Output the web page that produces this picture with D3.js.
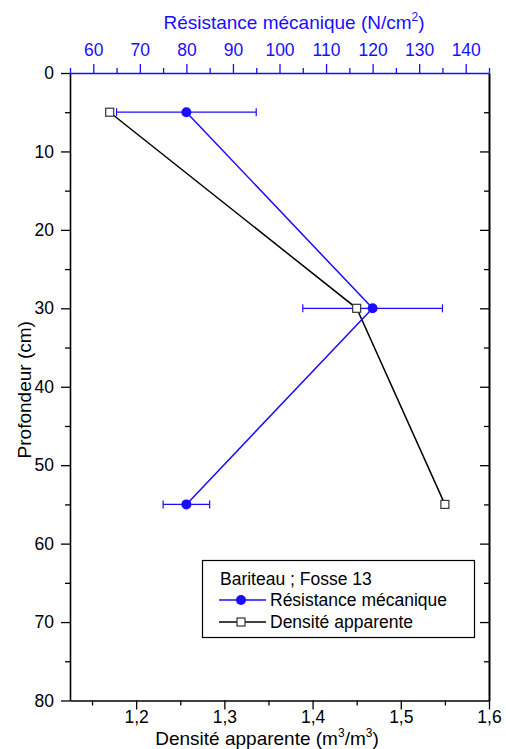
<!DOCTYPE html>
<html>
<head>
<meta charset="utf-8">
<script src="https://cdn.jsdelivr.net/npm/d3@7/dist/d3.min.js"></script>
<style>
  html, body { margin: 0; padding: 0; background: #fff; }
  svg { display: block; font-family: "Liberation Sans", Arial, sans-serif; }
</style>
</head>
<body>
<svg id="chart" width="506" height="749"></svg>
<script>
// Soil profile, Bariteau pit 13
const depths = [5, 30, 55];                 // Profondeur (cm)
const resistance = [80, 120, 80];           // Résistance mécanique (N/cm²)
const resistanceErr = [15, 15, 5];          // ± error
const density = [1.17, 1.45, 1.55];         // Densité apparente (m³/m³)

const depthTicks = [0, 10, 20, 30, 40, 50, 60, 70, 80];
const depthMinor = [5, 15, 25, 35, 45, 55, 65, 75];
const resTicks = [60, 70, 80, 90, 100, 110, 120, 130, 140];
const resMinor = [55, 65, 75, 85, 95, 105, 115, 125, 135, 145];
const denTicks = [1.2, 1.3, 1.4, 1.5, 1.6];
const denMinor = [1.15, 1.25, 1.35, 1.45, 1.55];

const legendTitle = "Bariteau ; Fosse 13";
const seriesNames = ["Résistance mécanique", "Densité apparente"];

const BLUE = "#1a0dff";
const BLACK = "#000";
const TICK_FS = 17.5, TITLE_FS = 19, LEGEND_FS = 17.5;

const L = 70, R = 489, T = 73, B = 700.5;

const svg = d3.select("#chart");

const y = d3.scaleLinear().domain([0, 80]).range([T, B]);
const xRes = d3.scaleLinear().domain([55, 145]).range([L, R]);
const xDen = d3.scaleLinear().domain([1.125, 1.6]).range([L, R]);

const fr = d3.formatLocale({ decimal: ",", thousands: " ", grouping: [3], currency: ["", "€"] });
const fmtDen = fr.format(".1f");

function styleAxis(g, color, width) {
  g.select(".domain").attr("stroke", color).attr("stroke-width", width);
  g.selectAll(".tick line").attr("stroke", color).attr("stroke-width", 1.3);
  g.selectAll(".tick text").attr("fill", color).attr("font-size", TICK_FS)
    .attr("font-family", "Liberation Sans, Arial, sans-serif");
}
function minorTicks(g, color) {
  g.select(".domain").remove();
  g.selectAll("line").attr("stroke", color).attr("stroke-width", 1.3);
}

// Left axis (depth)
const gL = svg.append("g").attr("transform", `translate(${L},0)`)
  .call(d3.axisLeft(y).tickValues(depthTicks).tickSize(9).tickPadding(7).tickSizeOuter(0));
styleAxis(gL, BLACK, 1.6);
svg.append("g").attr("transform", `translate(${L},0)`)
  .call(d3.axisLeft(y).tickValues(depthMinor).tickSize(5).tickFormat("").tickSizeOuter(0))
  .call(g => minorTicks(g, BLACK));

// Right axis (depth, inward ticks, no labels)
svg.append("g").attr("transform", `translate(${R},0)`)
  .call(d3.axisRight(y).tickValues(depthTicks.slice(1, -1)).tickSize(-9).tickFormat("").tickSizeOuter(0))
  .call(g => { g.select(".domain").attr("stroke", BLACK).attr("stroke-width", 2); g.selectAll(".tick line").attr("stroke", BLACK).attr("stroke-width", 1.3); });
svg.append("g").attr("transform", `translate(${R},0)`)
  .call(d3.axisRight(y).tickValues(depthMinor).tickSize(-5).tickFormat("").tickSizeOuter(0))
  .call(g => minorTicks(g, BLACK));

// Bottom axis (bulk density)
const gB = svg.append("g").attr("transform", `translate(0,${B})`)
  .call(d3.axisBottom(xDen).tickValues(denTicks).tickFormat(fmtDen).tickSize(9).tickPadding(1).tickSizeOuter(0));
styleAxis(gB, BLACK, 1.6);
svg.append("g").attr("transform", `translate(0,${B})`)
  .call(d3.axisBottom(xDen).tickValues(denMinor).tickSize(5).tickFormat("").tickSizeOuter(0))
  .call(g => minorTicks(g, BLACK));

// Top axis (mechanical resistance)
const gT = svg.append("g").attr("transform", `translate(0,${T})`)
  .call(d3.axisTop(xRes).tickValues(resTicks).tickSize(9).tickPadding(8).tickSizeOuter(0));
styleAxis(gT, BLUE, 1.6);
svg.append("g").attr("transform", `translate(0,${T})`)
  .call(d3.axisTop(xRes).tickValues(resMinor).tickSize(5).tickFormat("").tickSizeOuter(0))
  .call(g => minorTicks(g, BLUE));

// Axis titles
const topTitle = svg.append("text").attr("x", 294).attr("y", 29)
  .attr("text-anchor", "middle").attr("font-size", TITLE_FS).attr("fill", BLUE);
topTitle.append("tspan").text("Résistance mécanique (N/cm");
topTitle.append("tspan").attr("font-size", 12).attr("dy", -8).text("2");
topTitle.append("tspan").attr("dy", 8).text(")");

const botTitle = svg.append("text").attr("x", 267).attr("y", 745)
  .attr("text-anchor", "middle").attr("font-size", TITLE_FS).attr("fill", BLACK);
botTitle.append("tspan").text("Densité apparente (m");
botTitle.append("tspan").attr("font-size", 12).attr("dy", -8).text("3");
botTitle.append("tspan").attr("dy", 8).text("/m");
botTitle.append("tspan").attr("font-size", 12).attr("dy", -8).text("3");
botTitle.append("tspan").attr("dy", 8).text(")");

svg.append("text")
  .attr("transform", `translate(24,${(T + B) / 2 + 3}) rotate(-90)`)
  .attr("text-anchor", "middle").attr("dy", "0.35em")
  .attr("font-size", TITLE_FS).attr("fill", BLACK)
  .text("Profondeur (cm)");

// Series data
const resData = depths.map((d, i) => ({ depth: d, v: resistance[i], e: resistanceErr[i] }));
const denData = depths.map((d, i) => ({ depth: d, v: density[i] }));

// Density line
svg.append("path").datum(denData)
  .attr("fill", "none").attr("stroke", BLACK).attr("stroke-width", 1.5)
  .attr("d", d3.line().x(d => xDen(d.v)).y(d => y(d.depth)));

// Resistance line
svg.append("path").datum(resData)
  .attr("fill", "none").attr("stroke", BLUE).attr("stroke-width", 1.5)
  .attr("d", d3.line().x(d => xRes(d.v)).y(d => y(d.depth)));

// Error bars
const eb = svg.append("g").attr("stroke", BLUE).attr("stroke-width", 1.2);
resData.forEach(d => {
  const yy = y(d.depth);
  eb.append("line").attr("x1", xRes(d.v - d.e)).attr("x2", xRes(d.v + d.e)).attr("y1", yy).attr("y2", yy);
  [d.v - d.e, d.v + d.e].forEach(v => {
    eb.append("line").attr("x1", xRes(v)).attr("x2", xRes(v)).attr("y1", yy - 4).attr("y2", yy + 4);
  });
});

// Markers
svg.append("g").selectAll("rect").data(denData).join("rect")
  .attr("x", d => xDen(d.v) - 4).attr("y", d => y(d.depth) - 4)
  .attr("width", 8).attr("height", 8)
  .attr("fill", "#fff").attr("stroke", "#333").attr("stroke-width", 1.2);

svg.append("g").selectAll("circle").data(resData).join("circle")
  .attr("cx", d => xRes(d.v)).attr("cy", d => y(d.depth)).attr("r", 5)
  .attr("fill", BLUE);

// Legend
const lg = svg.append("g");
lg.append("rect").attr("x", 202.5).attr("y", 560.5).attr("width", 272).attr("height", 77)
  .attr("fill", "#fff").attr("stroke", BLACK).attr("stroke-width", 1.2);
lg.append("text").attr("x", 220).attr("y", 585).attr("font-size", LEGEND_FS).attr("fill", BLACK).text(legendTitle);
const rows = [
  { y: 600, name: seriesNames[0], color: BLUE, marker: "circle" },
  { y: 622, name: seriesNames[1], color: BLACK, marker: "square" }
];
rows.forEach(r => {
  lg.append("line").attr("x1", 219).attr("x2", 266).attr("y1", r.y).attr("y2", r.y)
    .attr("stroke", r.color).attr("stroke-width", 1.5);
  if (r.marker === "circle") {
    lg.append("circle").attr("cx", 241).attr("cy", r.y).attr("r", 5).attr("fill", BLUE);
  } else {
    lg.append("rect").attr("x", 237).attr("y", r.y - 4).attr("width", 8).attr("height", 8)
      .attr("fill", "#fff").attr("stroke", "#333").attr("stroke-width", 1.2);
  }
  lg.append("text").attr("x", 270).attr("y", r.y + 6).attr("font-size", LEGEND_FS).attr("fill", BLACK).text(r.name);
});
</script>
</body>
</html>
